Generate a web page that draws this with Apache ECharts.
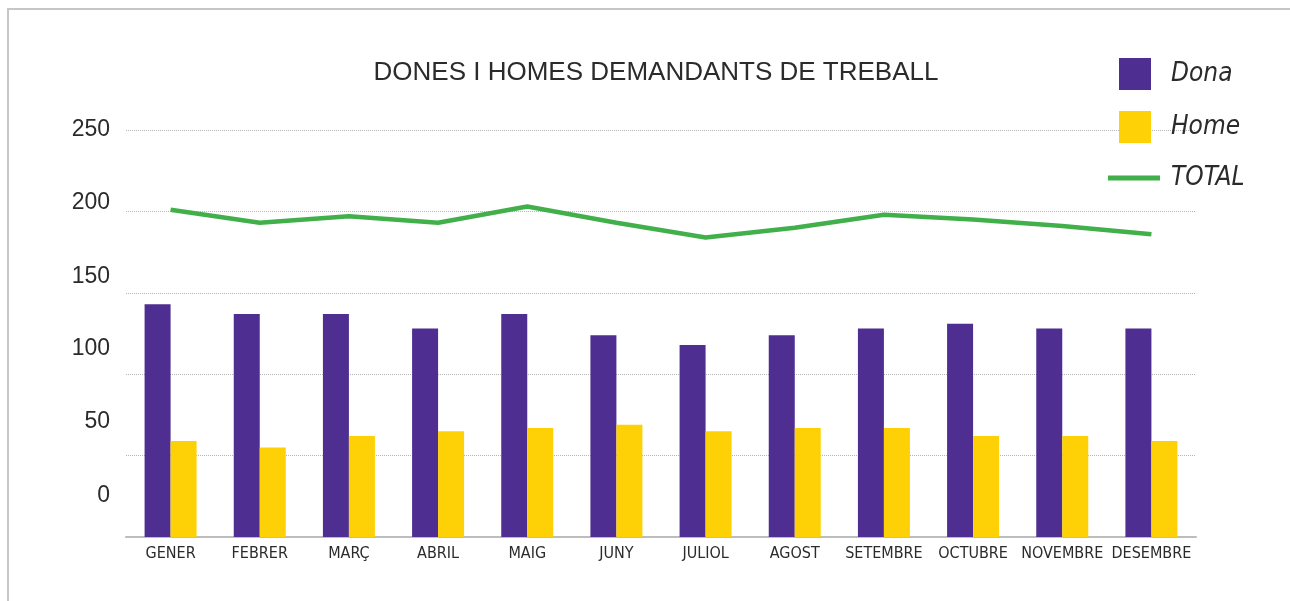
<!DOCTYPE html>
<html>
<head>
<meta charset="utf-8">
<title>Dones i homes demandants de treball</title>
<script src="https://cdn.jsdelivr.net/npm/echarts@6/dist/echarts.min.js"></script>
<style>
  html, body { margin: 0; padding: 0; background: #fff; }
  .frame {
    position: absolute;
    left: 7px;
    top: 8px;
    width: 1290px;
    height: 601px;
    border-top: 2px solid #c6c6c6;
    border-left: 2px solid #c6c6c6;
  }
  #chart { position: absolute; left: 0; top: 0; width: 1290px; height: 601px; }
</style>
</head>
<body>
<div class="frame"></div>
<div id="chart"></div>
<script>
const months = [
  'GENER', 'FEBRER', 'MARÇ', 'ABRIL', 'MAIG', 'JUNY',
  'JULIOL', 'AGOST', 'SETEMBRE', 'OCTUBRE', 'NOVEMBRE', 'DESEMBRE',
]
const dona = [143, 137, 137, 128, 137, 124, 118, 124, 128, 131, 128, 128]
const home = [59, 55, 62, 65, 67, 69, 65, 67, 67, 62, 62, 59]
const total = [201, 193, 197, 193, 203, 193, 184, 190, 198, 195, 191, 186]
const yTicks = [0, 50, 100, 150, 200, 250]

// the source sheet draws its value labels drifting above the gridlines
const labelLift = { 0: 82, 50: 68, 100: 52, 150: 32, 200: 18, 250: 0 }

const colors = ['#4e2e90', '#fdd106', '#41b04a']
const narrow = '"DejaVu Sans Condensed", "Liberation Sans", sans-serif'

const rich = {}
yTicks.forEach((t) => {
  rich['v' + t] = {
    fontFamily: 'Liberation Sans',
    fontSize: 23,
    color: '#2b2b2b',
    padding: [0, 0, labelLift[t], 0],
  }
})

const legendText = {
  fontFamily: narrow,
  fontStyle: 'italic',
  fontSize: 26,
  lineHeight: 32,
  color: '#2b2b2b',
}

const chart = echarts.init(document.getElementById('chart'))

chart.setOption({
  animation: false,
  color: colors,
  title: {
    text: 'DONES I HOMES DEMANDANTS DE TREBALL',
    left: 651,
    top: 55,
    textAlign: 'center',
    textStyle: {
      fontFamily: 'Liberation Sans',
      fontWeight: 'normal',
      fontSize: 26,
      color: '#2b2b2b',
    },
  },
  legend: [
    {
      data: ['Dona', 'Home'],
      orient: 'vertical',
      left: 1119,
      top: 58,
      padding: 0,
      itemWidth: 32,
      itemHeight: 32,
      itemGap: 21,
      icon: 'rect',
      selectedMode: false,
      textStyle: { ...legendText, padding: [0, 0, 0, 15] },
    },
    {
      data: ['TOTAL'],
      left: 1108,
      top: 162,
      padding: 0,
      itemWidth: 52,
      itemHeight: 5,
      icon: 'rect',
      selectedMode: false,
      textStyle: { ...legendText, padding: [0, 0, 0, 6] },
    },
  ],
  grid: {
    left: 126,
    right: 94,
    top: 130,
    bottom: 64,
  },
  xAxis: {
    type: 'category',
    data: months,
    axisTick: { show: false },
    axisLine: { lineStyle: { color: '#bdbdbd', width: 2 } },
    axisLabel: {
      interval: 0,
      margin: 9,
      fontFamily: narrow,
      fontSize: 16,
      color: '#2b2b2b',
    },
  },
  yAxis: {
    type: 'value',
    min: 0,
    max: 250,
    interval: 50,
    axisLine: { show: false },
    axisTick: { show: false },
    splitLine: { lineStyle: { color: '#b5b5b5', type: 'dotted', width: 1 } },
    axisLabel: {
      margin: 16,
      formatter: (v) => `{v${v}|${v}}`,
      rich,
    },
  },
  series: [
    {
      name: 'Dona',
      type: 'bar',
      data: dona,
      barWidth: 26,
      barGap: '0%',
    },
    {
      name: 'Home',
      type: 'bar',
      data: home,
      barWidth: 26,
      barGap: '0%',
    },
    {
      name: 'TOTAL',
      type: 'line',
      data: total,
      symbol: 'none',
      showSymbol: false,
      lineStyle: { width: 4.5, color: colors[2] },
      itemStyle: { color: colors[2] },
    },
  ],
})
</script>
</body>
</html>
